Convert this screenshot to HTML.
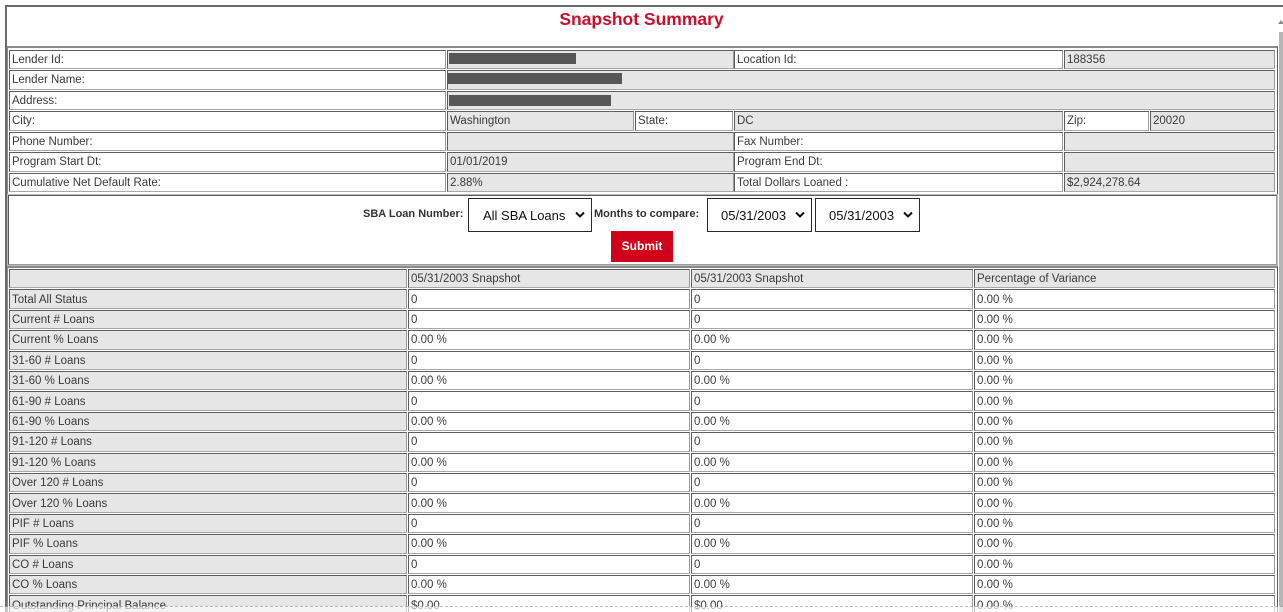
<!DOCTYPE html>
<html><head><meta charset="utf-8">
<style>
html,body{margin:0;padding:0;background:#fff;width:1283px;height:612px;overflow:hidden;position:relative;font-family:"Liberation Sans",Arial,sans-serif}
.a{position:absolute;box-sizing:border-box}
.c{position:absolute;box-sizing:border-box;border:1px solid;border-color:#5e5e5e #9a9a9a #a8a8a8 #5e5e5e;padding-left:2px;padding-top:1px;font-size:11.5px;color:#3a3a3a;white-space:nowrap;overflow:hidden;display:flex;align-items:center}
.g{background:#e6e6e6}
.w{background:#fff}
.bar{position:absolute;background:#575757}
.sel{position:absolute;box-sizing:border-box;border:1.5px solid #2a2a2a;background:#fff;font-size:13px;color:#111;display:flex;align-items:center}
.sel svg{position:absolute;right:6px;top:12px}
.lbl{position:absolute;font-size:11px;font-weight:bold;color:#333;white-space:nowrap}
</style></head><body>

<!-- outer container -->
<div class="a" style="left:5px;top:5px;width:1280px;height:620px;border-top:2px solid #6a6a6a;border-left:2px solid #6a6a6a"></div>
<!-- scrollbar -->
<div class="a" style="left:1279px;top:32px;width:4px;height:580px;background:#b5b5b5"></div>
<svg class="a" style="left:1278px;top:19px" width="6" height="6"><polygon points="3,1 6,5 0,5" fill="#888"/></svg>

<!-- title -->
<div class="a" style="left:0;top:8px;width:1283px;text-align:center;font-size:17.5px;font-weight:bold;color:#c8102e;line-height:22px">Snapshot Summary</div>

<!-- table 1 frame -->
<div class="a" style="left:7px;top:46px;width:1271px;height:149px;border:1px solid;border-color:#8a8a8a #5a5a5a #5a5a5a #8a8a8a;border-top:2px solid #8a8a8a"></div>

<!-- row 1 -->
<div class="c w" style="left:9px;top:49.5px;width:437px;height:19.5px">Lender Id:</div>
<div class="c g" style="left:447px;top:49.5px;width:287px;height:19.5px"></div>
<div class="bar" style="left:449px;top:53px;width:127px;height:11px"></div>
<div class="c w" style="left:734px;top:49.5px;width:329px;height:19.5px">Location Id:</div>
<div class="c g" style="left:1064px;top:49.5px;width:211px;height:19.5px">188356</div>
<!-- row 2 -->
<div class="c w" style="left:9px;top:70px;width:437px;height:19.5px">Lender Name:</div>
<div class="c g" style="left:447px;top:70px;width:828px;height:19.5px"></div>
<div class="bar" style="left:448px;top:73px;width:174px;height:11px"></div>
<!-- row 3 -->
<div class="c w" style="left:9px;top:90.5px;width:437px;height:19.5px">Address:</div>
<div class="c g" style="left:447px;top:90.5px;width:828px;height:19.5px"></div>
<div class="bar" style="left:449px;top:95px;width:162px;height:11px"></div>
<!-- row 4 -->
<div class="c w" style="left:9px;top:111px;width:437px;height:19.5px">City:</div>
<div class="c g" style="left:447px;top:111px;width:187px;height:19.5px">Washington</div>
<div class="c w" style="left:635px;top:111px;width:98px;height:19.5px">State:</div>
<div class="c g" style="left:734px;top:111px;width:329px;height:19.5px">DC</div>
<div class="c w" style="left:1064px;top:111px;width:85px;height:19.5px">Zip:</div>
<div class="c g" style="left:1150px;top:111px;width:125px;height:19.5px">20020</div>
<!-- row 5 -->
<div class="c w" style="left:9px;top:131.5px;width:437px;height:19.5px">Phone Number:</div>
<div class="c g" style="left:447px;top:131.5px;width:287px;height:19.5px"></div>
<div class="c w" style="left:734px;top:131.5px;width:329px;height:19.5px">Fax Number:</div>
<div class="c g" style="left:1064px;top:131.5px;width:211px;height:19.5px"></div>
<!-- row 6 -->
<div class="c w" style="left:9px;top:152px;width:437px;height:19.5px">Program Start Dt:</div>
<div class="c g" style="left:447px;top:152px;width:287px;height:19.5px">01/01/2019</div>
<div class="c w" style="left:734px;top:152px;width:329px;height:19.5px">Program End Dt:</div>
<div class="c g" style="left:1064px;top:152px;width:211px;height:19.5px"></div>
<!-- row 7 -->
<div class="c w" style="left:9px;top:172.5px;width:437px;height:19.5px">Cumulative Net Default Rate:</div>
<div class="c g" style="left:447px;top:172.5px;width:287px;height:19.5px">2.88%</div>
<div class="c w" style="left:734px;top:172.5px;width:329px;height:19.5px">Total Dollars Loaned :</div>
<div class="c g" style="left:1064px;top:172.5px;width:211px;height:19.5px">$2,924,278.64</div>

<!-- form box -->
<div class="a" style="left:8px;top:195px;width:1269px;height:70px;border:1px solid;border-color:#5a5a5a #9a9a9a #9a9a9a #5a5a5a;box-shadow:0 0 0 1px #bbb"></div>
<div class="lbl" style="left:363px;top:208px">SBA Loan Number:</div>
<div class="sel" style="left:468px;top:198px;width:124px;height:34px;padding-left:14px">All SBA Loans
<svg width="10" height="8"><polyline points="1,1.5 5,5.5 9,1.5" fill="none" stroke="#111" stroke-width="2"/></svg></div>
<div class="lbl" style="left:594px;top:208px">Months to compare:</div>
<div class="sel" style="left:707px;top:198px;width:105px;height:34px;padding-left:13px">05/31/2003
<svg width="10" height="8"><polyline points="1,1.5 5,5.5 9,1.5" fill="none" stroke="#111" stroke-width="2"/></svg></div>
<div class="sel" style="left:815px;top:198px;width:105px;height:34px;padding-left:13px">05/31/2003
<svg width="10" height="8"><polyline points="1,1.5 5,5.5 9,1.5" fill="none" stroke="#111" stroke-width="2"/></svg></div>
<div class="a" style="left:611px;top:231px;width:62px;height:31px;background:#d0021b;color:#fff;font-size:12px;font-weight:bold;text-align:center;line-height:31px">Submit</div>

<!-- data table frame -->
<div class="a" style="left:7px;top:266px;width:1271px;height:360px;border:1px solid;border-color:#8a8a8a #5a5a5a #5a5a5a #8a8a8a;border-top:2px solid #8a8a8a"></div>

<!-- header -->
<div class="c g" style="left:9px;top:269px;width:398px;height:19.4px"></div>
<div class="c g" style="left:408px;top:269px;width:282px;height:19.4px">05/31/2003 Snapshot</div>
<div class="c g" style="left:691px;top:269px;width:282px;height:19.4px">05/31/2003 Snapshot</div>
<div class="c g" style="left:974px;top:269px;width:301px;height:19.4px">Percentage of Variance</div>

<!-- rows -->
<div class="c g" style="left:9px;top:289.4px;width:398px;height:19.4px">Total All Status</div>
<div class="c w" style="left:408px;top:289.4px;width:282px;height:19.4px">0</div>
<div class="c w" style="left:691px;top:289.4px;width:282px;height:19.4px">0</div>
<div class="c w" style="left:974px;top:289.4px;width:301px;height:19.4px">0.00 %</div>

<div class="c g" style="left:9px;top:309.8px;width:398px;height:19.4px">Current # Loans</div>
<div class="c w" style="left:408px;top:309.8px;width:282px;height:19.4px">0</div>
<div class="c w" style="left:691px;top:309.8px;width:282px;height:19.4px">0</div>
<div class="c w" style="left:974px;top:309.8px;width:301px;height:19.4px">0.00 %</div>

<div class="c g" style="left:9px;top:330.2px;width:398px;height:19.4px">Current % Loans</div>
<div class="c w" style="left:408px;top:330.2px;width:282px;height:19.4px">0.00 %</div>
<div class="c w" style="left:691px;top:330.2px;width:282px;height:19.4px">0.00 %</div>
<div class="c w" style="left:974px;top:330.2px;width:301px;height:19.4px">0.00 %</div>

<div class="c g" style="left:9px;top:350.6px;width:398px;height:19.4px">31-60 # Loans</div>
<div class="c w" style="left:408px;top:350.6px;width:282px;height:19.4px">0</div>
<div class="c w" style="left:691px;top:350.6px;width:282px;height:19.4px">0</div>
<div class="c w" style="left:974px;top:350.6px;width:301px;height:19.4px">0.00 %</div>

<div class="c g" style="left:9px;top:371px;width:398px;height:19.4px">31-60 % Loans</div>
<div class="c w" style="left:408px;top:371px;width:282px;height:19.4px">0.00 %</div>
<div class="c w" style="left:691px;top:371px;width:282px;height:19.4px">0.00 %</div>
<div class="c w" style="left:974px;top:371px;width:301px;height:19.4px">0.00 %</div>

<div class="c g" style="left:9px;top:391.4px;width:398px;height:19.4px">61-90 # Loans</div>
<div class="c w" style="left:408px;top:391.4px;width:282px;height:19.4px">0</div>
<div class="c w" style="left:691px;top:391.4px;width:282px;height:19.4px">0</div>
<div class="c w" style="left:974px;top:391.4px;width:301px;height:19.4px">0.00 %</div>

<div class="c g" style="left:9px;top:411.8px;width:398px;height:19.4px">61-90 % Loans</div>
<div class="c w" style="left:408px;top:411.8px;width:282px;height:19.4px">0.00 %</div>
<div class="c w" style="left:691px;top:411.8px;width:282px;height:19.4px">0.00 %</div>
<div class="c w" style="left:974px;top:411.8px;width:301px;height:19.4px">0.00 %</div>

<div class="c g" style="left:9px;top:432.2px;width:398px;height:19.4px">91-120 # Loans</div>
<div class="c w" style="left:408px;top:432.2px;width:282px;height:19.4px">0</div>
<div class="c w" style="left:691px;top:432.2px;width:282px;height:19.4px">0</div>
<div class="c w" style="left:974px;top:432.2px;width:301px;height:19.4px">0.00 %</div>

<div class="c g" style="left:9px;top:452.6px;width:398px;height:19.4px">91-120 % Loans</div>
<div class="c w" style="left:408px;top:452.6px;width:282px;height:19.4px">0.00 %</div>
<div class="c w" style="left:691px;top:452.6px;width:282px;height:19.4px">0.00 %</div>
<div class="c w" style="left:974px;top:452.6px;width:301px;height:19.4px">0.00 %</div>

<div class="c g" style="left:9px;top:473px;width:398px;height:19.4px">Over 120 # Loans</div>
<div class="c w" style="left:408px;top:473px;width:282px;height:19.4px">0</div>
<div class="c w" style="left:691px;top:473px;width:282px;height:19.4px">0</div>
<div class="c w" style="left:974px;top:473px;width:301px;height:19.4px">0.00 %</div>

<div class="c g" style="left:9px;top:493.4px;width:398px;height:19.4px">Over 120 % Loans</div>
<div class="c w" style="left:408px;top:493.4px;width:282px;height:19.4px">0.00 %</div>
<div class="c w" style="left:691px;top:493.4px;width:282px;height:19.4px">0.00 %</div>
<div class="c w" style="left:974px;top:493.4px;width:301px;height:19.4px">0.00 %</div>

<div class="c g" style="left:9px;top:513.8px;width:398px;height:19.4px">PIF # Loans</div>
<div class="c w" style="left:408px;top:513.8px;width:282px;height:19.4px">0</div>
<div class="c w" style="left:691px;top:513.8px;width:282px;height:19.4px">0</div>
<div class="c w" style="left:974px;top:513.8px;width:301px;height:19.4px">0.00 %</div>

<div class="c g" style="left:9px;top:534.2px;width:398px;height:19.4px">PIF % Loans</div>
<div class="c w" style="left:408px;top:534.2px;width:282px;height:19.4px">0.00 %</div>
<div class="c w" style="left:691px;top:534.2px;width:282px;height:19.4px">0.00 %</div>
<div class="c w" style="left:974px;top:534.2px;width:301px;height:19.4px">0.00 %</div>

<div class="c g" style="left:9px;top:554.6px;width:398px;height:19.4px">CO # Loans</div>
<div class="c w" style="left:408px;top:554.6px;width:282px;height:19.4px">0</div>
<div class="c w" style="left:691px;top:554.6px;width:282px;height:19.4px">0</div>
<div class="c w" style="left:974px;top:554.6px;width:301px;height:19.4px">0.00 %</div>

<div class="c g" style="left:9px;top:575px;width:398px;height:19.4px">CO % Loans</div>
<div class="c w" style="left:408px;top:575px;width:282px;height:19.4px">0.00 %</div>
<div class="c w" style="left:691px;top:575px;width:282px;height:19.4px">0.00 %</div>
<div class="c w" style="left:974px;top:575px;width:301px;height:19.4px">0.00 %</div>

<div class="c g" style="left:9px;top:595.4px;width:398px;height:19.4px">Outstanding Principal Balance</div>
<div class="c w" style="left:408px;top:595.4px;width:282px;height:19.4px">$0.00</div>
<div class="c w" style="left:691px;top:595.4px;width:282px;height:19.4px">$0.00</div>
<div class="c w" style="left:974px;top:595.4px;width:301px;height:19.4px">0.00 %</div>

<!-- dotted overlay line at bottom -->
<div class="a" style="left:0;top:606px;width:1283px;height:6px;background:#fff;border-top:1px dashed #9a9a9a;opacity:0.6"></div>

</body></html>
